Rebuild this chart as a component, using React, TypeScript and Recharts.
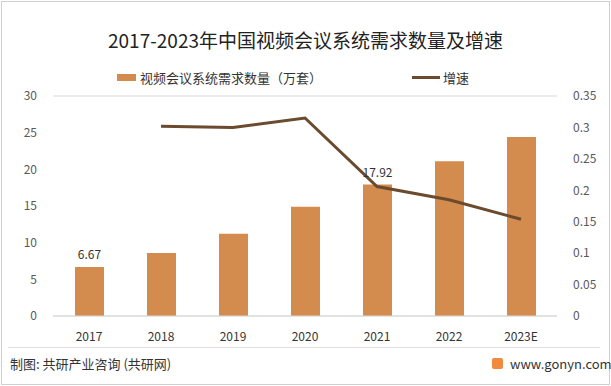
import React from 'react';
import { ComposedChart, Bar, Line, XAxis, YAxis, CartesianGrid, LabelList } from 'recharts';

const years = ['2017', '2018', '2019', '2020', '2021', '2022', '2023E'];
const demand = [6.67, 8.6, 11.2, 14.9, 17.92, 21.1, 24.4];
const growth = [null, 0.302, 0.3, 0.315, 0.206, 0.185, 0.154];
const shownLabels = ['6.67', '', '', '', '17.92', '', ''];
const leftTicks = [0, 5, 10, 15, 20, 25, 30];
const rightTicks = [0, 0.05, 0.1, 0.15, 0.2, 0.25, 0.3, 0.35];

const data = years.map((year, i) => ({
  year,
  demand: demand[i],
  growth: growth[i],
  label: shownLabels[i],
}));

const font = '"Noto Sans CJK SC", "Noto Sans", sans-serif';
const barColor = '#D38B4E';
const lineColor = '#6B4A2E';

export default function App() {
  return (
    <div style={{ position: 'absolute', left: 0, top: 0, width: 611, height: 386, background: '#fff', fontFamily: font }}>
      <div style={{ position: 'absolute', left: 1, top: 1, width: 607, height: 382, border: '1px solid #d0d0d0' }} />
      <div style={{ position: 'absolute', left: 0, top: 26, width: 611, textAlign: 'center', fontSize: 19, color: '#222' }}>
        2017-2023年中国视频会议系统需求数量及增速
      </div>
      <ComposedChart
        width={611}
        height={386}
        data={data}
        margin={{ top: 96, right: 8, bottom: 40, left: 8 }}
        style={{ position: 'absolute', left: 0, top: 0 }}
      >
        <CartesianGrid vertical={false} stroke="#d9d9d9" />
        <XAxis
          dataKey="year"
          tickLine={false}
          axisLine={{ stroke: '#d9d9d9' }}
          tickMargin={10}
          tick={{ fontSize: 12, fill: '#333', fontFamily: font }}
        />
        <YAxis
          yAxisId="left"
          width={45}
          domain={[0, 30]}
          ticks={leftTicks}
          tickLine={false}
          axisLine={false}
          tickMargin={10}
          tick={{ fontSize: 12, fill: '#595959', fontFamily: font }}
        />
        <YAxis
          yAxisId="right"
          orientation="right"
          width={46}
          domain={[0, 0.35]}
          ticks={rightTicks}
          tickLine={false}
          axisLine={false}
          tickMargin={10}
          tick={{ fontSize: 12, fill: '#595959', fontFamily: font }}
        />
        <Bar yAxisId="left" dataKey="demand" fill={barColor} barSize={29} isAnimationActive={false}>
          <LabelList dataKey="label" position="top" offset={8} style={{ fontSize: 12, fill: '#333', fontFamily: font }} />
        </Bar>
        <Line
          yAxisId="right"
          dataKey="growth"
          stroke={lineColor}
          strokeWidth={3}
          dot={false}
          isAnimationActive={false}
        />
      </ComposedChart>
      <div style={{ position: 'absolute', left: 117, top: 68, display: 'flex', alignItems: 'center', fontSize: 13, color: '#333' }}>
        <span style={{ width: 19, height: 7, background: barColor, marginRight: 4 }} />
        视频会议系统需求数量（万套）
      </div>
      <div style={{ position: 'absolute', left: 412, top: 68, display: 'flex', alignItems: 'center', fontSize: 13, color: '#333' }}>
        <span style={{ width: 28, height: 3, background: lineColor, marginRight: 3 }} />
        增速
      </div>
      <div style={{ position: 'absolute', left: 8, top: 347, width: 592, height: 1, background: '#e0e0e0' }} />
      <div style={{ position: 'absolute', left: 10, top: 354, fontSize: 13, color: '#333' }}>
        制图: 共研产业咨询 (共研网)
      </div>
      <div style={{ position: 'absolute', left: 492, top: 358, width: 11, height: 11, background: '#F08A3C', borderRadius: 2 }} />
      <div style={{ position: 'absolute', left: 510, top: 354, fontSize: 13, color: '#333' }}>
        www.gonyn.com
      </div>
    </div>
  );
}
